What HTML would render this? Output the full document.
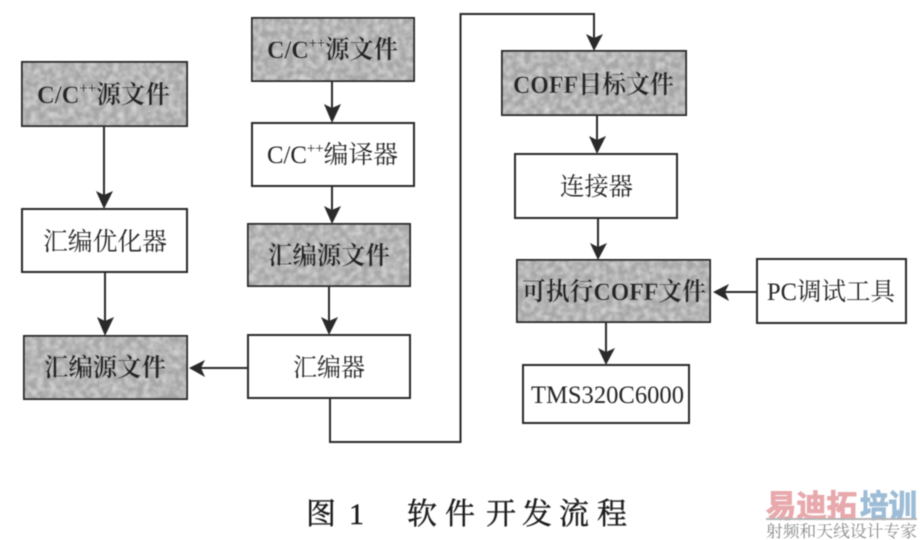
<!DOCTYPE html>
<html><head><meta charset="utf-8">
<style>html,body{margin:0;padding:0;background:#fff}svg{display:block}
text{font-family:"Liberation Serif","Noto Serif CJK SC",serif;fill:#262626}</style></head>
<body>
<svg width="920" height="540" viewBox="0 0 920 540" xmlns="http://www.w3.org/2000/svg">
<defs>
<filter id="b" x="-5%" y="-5%" width="110%" height="110%"><feGaussianBlur stdDeviation="0.5"/></filter>
<filter id="n" x="0" y="0" width="100%" height="100%">
<feTurbulence type="fractalNoise" baseFrequency="0.16" numOctaves="3" seed="4" result="t"/>
<feColorMatrix in="t" type="matrix" values="0 0 0 0 0.9 0 0 0 0 0.9 0 0 0 0 0.9 1.1 0 0 0 -0.38" result="c"/>
<feGaussianBlur in="c" stdDeviation="0.7" result="d"/>
<feComposite in="d" in2="SourceGraphic" operator="in" result="s"/>
<feMerge><feMergeNode in="SourceGraphic"/><feMergeNode in="s"/></feMerge>
</filter>
</defs>
<g filter="url(#b)">
<g fill="#a6a6a6" filter="url(#n)">
<rect x="22" y="62" width="165" height="64"/>
<rect x="24" y="336" width="163" height="63"/>
<rect x="252" y="18" width="162" height="63"/>
<rect x="248" y="224" width="162" height="62"/>
<rect x="502" y="51" width="184" height="64"/>
<rect x="517" y="260" width="193" height="62"/>
</g>
<g fill="none" stroke="#2a2a2a" stroke-width="2">
<rect x="22" y="62" width="165" height="64"/>
<rect x="22" y="209" width="165" height="63"/>
<rect x="24" y="336" width="163" height="63"/>
<rect x="252" y="18" width="162" height="63"/>
<rect x="252" y="123" width="162" height="63"/>
<rect x="248" y="224" width="162" height="62"/>
<rect x="248" y="335" width="162" height="63"/>
<rect x="502" y="51" width="184" height="64"/>
<rect x="515" y="154" width="162" height="64"/>
<rect x="517" y="260" width="193" height="62"/>
<rect x="757" y="259" width="149" height="64"/>
<rect x="523" y="365" width="166" height="58"/>
<path d="M104 126V200M105 272V326M332 81V114M332 186V215M329 286V326M330 398V442H460.5V14H594V42M597 115V145M598 218V251M606 322V356M248 368H198M757 292H722"/>
</g>
<g fill="#2a2a2a">
<path d="M96 191L104 195L113 191L104 209Z"/>
<path d="M97 317L105 321L114 317L105 336Z"/>
<path d="M324 104L332 108L341 104L332 123Z"/>
<path d="M324 206L332 210L341 206L332 224Z"/>
<path d="M321 317L329 321L338 317L329 335Z"/>
<path d="M586 34L594 38L603 34L594 51Z"/>
<path d="M589 136L597 140L606 136L597 154Z"/>
<path d="M590 243L598 247L607 243L598 260Z"/>
<path d="M598 348L606 352L615 348L606 365Z"/>
<path d="M189 368L205 360L201 368L205 377Z"/>
<path d="M713 292L729 284L725 292L729 301Z"/>
</g>
<g font-size="25">
<text x="37" y="103" font-weight="bold" textLength="133" lengthAdjust="spacingAndGlyphs">C/C<tspan font-size="15" dy="-10">++</tspan><tspan dy="10">源文件</tspan></text>
<text x="43" y="250" textLength="124" lengthAdjust="spacingAndGlyphs">汇编优化器</text>
<text x="44" y="376" font-weight="bold" textLength="122" lengthAdjust="spacingAndGlyphs">汇编源文件</text>
<text x="267" y="58" font-weight="bold" textLength="131" lengthAdjust="spacingAndGlyphs">C/C<tspan font-size="15" dy="-10">++</tspan><tspan dy="10">源文件</tspan></text>
<text x="267" y="163" textLength="131" lengthAdjust="spacingAndGlyphs">C/C<tspan font-size="15" dy="-10">++</tspan><tspan dy="10">编译器</tspan></text>
<text x="268" y="264" font-weight="bold" textLength="122" lengthAdjust="spacingAndGlyphs">汇编源文件</text>
<text x="293" y="376" textLength="72" lengthAdjust="spacingAndGlyphs">汇编器</text>
<text x="513" y="93" font-weight="bold" textLength="161" lengthAdjust="spacingAndGlyphs">COFF目标文件</text>
<text x="560" y="195" textLength="73" lengthAdjust="spacingAndGlyphs">连接器</text>
<text x="522" y="300" font-weight="bold" textLength="184" lengthAdjust="spacingAndGlyphs">可执行COFF文件</text>
<text x="767" y="300" textLength="128" lengthAdjust="spacingAndGlyphs">PC调试工具</text>
<text x="531" y="403" textLength="153" lengthAdjust="spacingAndGlyphs">TMS320C6000</text>
</g>
<text y="524" font-size="30" style="fill:#1c1c1c;stroke:#1c1c1c;stroke-width:.4" x="306 349 407 445 486 522 559 597">图1软件开发流程</text>
</g>
<g filter="url(#b)">
<text x="766" y="517" font-size="31" font-weight="bold" textLength="91" lengthAdjust="spacingAndGlyphs" style="font-family:'Liberation Sans','Noto Sans CJK SC',sans-serif;fill:#e8a9ad;stroke:#e8a9ad;stroke-width:1">易迪拓</text>
<text x="860" y="517" font-size="31" font-weight="bold" textLength="57" lengthAdjust="spacingAndGlyphs" style="font-family:'Liberation Sans','Noto Sans CJK SC',sans-serif;fill:#9dbcd6;stroke:#9dbcd6;stroke-width:1">培训</text>
<rect x="766" y="518" width="151" height="2" fill="#b5b5b5"/>
<text x="766" y="537" font-size="16.5" textLength="151" lengthAdjust="spacingAndGlyphs" style="fill:#8a8a8a">射频和天线设计专家</text>
</g>
</svg>
</body></html>
